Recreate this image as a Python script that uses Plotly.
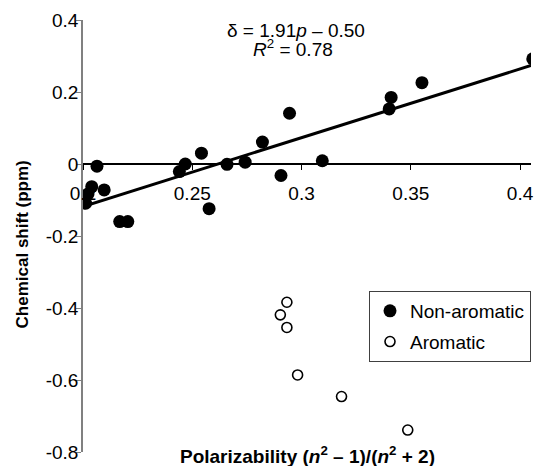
import plotly.graph_objects as go

# Non-aromatic (filled) points
nonarom_x = [0.2064, 0.2040, 0.2023, 0.2012, 0.2097, 0.2168, 0.2205, 0.2441, 0.2468,
             0.2542, 0.2577, 0.2659, 0.2742, 0.2821, 0.2906, 0.2945, 0.3095, 0.3401,
             0.3410, 0.3551, 0.4058]
nonarom_y = [-0.006, -0.063, -0.083, -0.109, -0.072, -0.160, -0.160, -0.021, 0.000,
             0.030, -0.124, -0.001, 0.005, 0.061, -0.032, 0.141, 0.009, 0.153,
             0.185, 0.226, 0.292]

# Aromatic (open) points
arom_x = [0.2933, 0.2903, 0.2933, 0.2982, 0.3183, 0.3486]
arom_y = [-0.384, -0.419, -0.454, -0.586, -0.646, -0.739]

# Fit: delta = 1.91 p - 0.50
slope = 1.91
intercept = -0.50
fit_x = [0.2, 0.405]
fit_y = [slope * v + intercept for v in fit_x]

x_ticks = [0.2, 0.25, 0.3, 0.35, 0.4]
x_ticktext = ["0.2", "0.25", "0.3", "0.35", "0.4"]
y_ticks = [-0.8, -0.6, -0.4, -0.2, 0, 0.2, 0.4]
y_ticktext = ["-0.8", "-0.6", "-0.4", "-0.2", "0", "0.2", "0.4"]

FONT = "Liberation Sans, Arial, sans-serif"
FS = 19

fig = go.Figure()
fig.add_trace(go.Scatter(x=fit_x, y=fit_y, mode="lines",
                         line=dict(color="black", width=3), showlegend=False,
                         hoverinfo="skip"))
fig.add_trace(go.Scatter(x=nonarom_x, y=nonarom_y, mode="markers", name="Non-aromatic",
                         legendgroup="a",
                         marker=dict(color="black", size=13, line=dict(width=0))))
fig.add_trace(go.Scatter(x=arom_x, y=arom_y, mode="markers", name="Aromatic",
                         legendgroup="b",
                         marker=dict(color="white", size=10,
                                     line=dict(color="black", width=1.6))))

ymin, ymax = -0.8, 0.4
fig.update_layout(
    width=534, height=466,
    margin=dict(l=83, r=0, t=20, b=14),
    paper_bgcolor="white", plot_bgcolor="white",
    font=dict(family=FONT, size=FS, color="black"),
    xaxis=dict(range=[0.2, 0.405], anchor="free", position=(0 - ymin) / (ymax - ymin),
               showline=True, linecolor="black", linewidth=1.5,
               ticks="outside", ticklen=5, tickcolor="black", tickwidth=1,
               tickvals=x_ticks, ticktext=x_ticktext, ticklabelstandoff=7,
               ticklabeloverflow="allow",
               showgrid=False, zeroline=False, layer="below traces"),
    yaxis=dict(range=[ymin, ymax], showline=True, linecolor="#808080", linewidth=1.5,
               ticks="outside", ticklen=5, tickcolor="#808080", tickwidth=1,
               tickvals=y_ticks, ticktext=y_ticktext, ticklabelstandoff=-6,
               showgrid=False, zeroline=False, layer="below traces"),
    legend=dict(x=1, y=(452 - 291) / 432, xanchor="right", yanchor="top",
                bordercolor="#404040", borderwidth=1, bgcolor="white",
                font=dict(size=FS), itemwidth=30, traceorder="grouped",
                tracegroupgap=3),
    showlegend=True,
)

fig.add_annotation(text="δ = 1.91<i>p</i> – 0.50", x=(297 - 83) / 451, y=(452 - 31) / 432,
                   xref="paper", yref="paper", showarrow=False, font=dict(size=FS),
                   xanchor="center", yanchor="middle")
fig.add_annotation(text="<i>R</i><sup>2</sup> = 0.78", x=(294 - 83) / 451, y=(452 - 48) / 432,
                   xref="paper", yref="paper", showarrow=False, font=dict(size=FS),
                   xanchor="center", yanchor="middle")
fig.add_annotation(text="<b>Polarizability (<i>n</i><sup>2</sup> – 1)/(<i>n</i><sup>2</sup> + 2)</b>",
                   x=(309 - 83) / 451, y=(452 - 455) / 432, xref="paper", yref="paper",
                   showarrow=False, font=dict(size=FS), xanchor="center", yanchor="middle")
fig.add_annotation(text="<b>Chemical shift (ppm)</b>", textangle=-90,
                   x=(22 - 83) / 451, y=(452 - 244) / 432, xref="paper", yref="paper",
                   showarrow=False, font=dict(size=17), xanchor="center", yanchor="middle")

fig.write_html("out.html")
